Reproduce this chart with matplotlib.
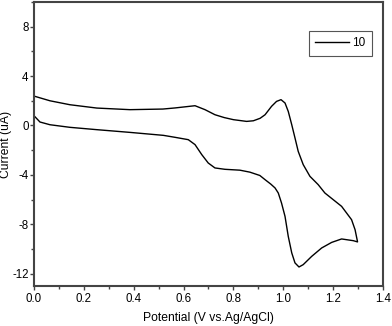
import matplotlib
matplotlib.use('Agg')
import matplotlib.pyplot as plt
from matplotlib.ticker import MultipleLocator

plt.rcParams['font.family'] = ['Liberation Sans', 'DejaVu Sans']
plt.rcParams['axes.unicode_minus'] = False

# forward scan (lower branch), 0 V -> 1.3 V
fwd_v = [0.0, 0.024, 0.064, 0.144, 0.252, 0.385, 0.519, 0.566, 0.619, 0.646,
         0.673, 0.699, 0.726, 0.766, 0.826, 0.866, 0.906, 0.927, 0.950, 0.967,
         0.980, 0.993, 1.007, 1.020, 1.034, 1.047, 1.063, 1.080, 1.114, 1.154,
         1.194, 1.234, 1.281, 1.298]
fwd_i = [0.79, 0.28, 0.06, -0.15, -0.34, -0.56, -0.80, -0.96, -1.15, -1.55,
         -2.36, -3.04, -3.44, -3.55, -3.62, -3.78, -4.05, -4.39, -4.75, -5.06,
         -5.47, -6.28, -7.36, -8.98, -10.32, -11.13, -11.46, -11.27, -10.6, -9.92,
         -9.47, -9.19, -9.33, -9.43]

# reverse scan (upper branch), 1.3 V -> 0 V
rev_v = [1.298, 1.288, 1.274, 1.234, 1.167, 1.140, 1.107, 1.080, 1.060,
         1.047, 1.034, 1.020, 1.007, 0.991, 0.973, 0.953, 0.927, 0.907, 0.880,
         0.853, 0.800, 0.763, 0.726, 0.686, 0.646, 0.566, 0.517, 0.385, 0.252,
         0.144, 0.064, 0.0]
rev_i = [-9.43, -8.44, -7.63, -6.55, -5.47, -4.79, -4.12, -3.17, -2.1,
         -1.01, 0.06, 1.14, 1.82, 2.09, 1.95, 1.55, 0.87, 0.58, 0.38,
         0.33, 0.47, 0.64, 0.87, 1.28, 1.6, 1.42, 1.33, 1.28, 1.41,
         1.68, 2.0, 2.38]

fig = plt.figure(figsize=(3.92, 3.26), dpi=100)
ax = fig.add_axes([0.0867, 0.1227, 0.8903, 0.8712])

ax.plot(fwd_v + rev_v, fwd_i + rev_i, color='black', lw=1.0, label='10')

ax.set_xlim(0, 1.4)
ax.set_ylim(-13, 10)
ax.xaxis.set_major_locator(MultipleLocator(0.2))
ax.xaxis.set_minor_locator(MultipleLocator(0.1))
ax.yaxis.set_major_locator(MultipleLocator(4))
ax.yaxis.set_minor_locator(MultipleLocator(2))
ax.xaxis.set_major_formatter(plt.FuncFormatter(lambda v, p: f'{v:.1f}'))

for s in ax.spines.values():
    s.set_color('#444444')
    s.set_linewidth(1.5)

ax.tick_params(which='both', direction='out', top=False, right=False,
               labelsize=8.3, color='#444444', width=1.0)
ax.tick_params(which='major', length=3)
ax.tick_params(which='minor', length=2.2)
ax.tick_params(axis='y', pad=0.8)
ax.tick_params(axis='x', pad=2)

ax.set_xlabel('Potential (V vs.Ag/AgCl)', fontsize=8.7)
ax.set_ylabel('Current (uA)', fontsize=8.7)
ax.xaxis.set_label_coords(0.5, -0.09)
ax.yaxis.set_label_coords(-0.062, 0.5)

leg = ax.legend(loc='upper right', bbox_to_anchor=(0.968, 0.898), fontsize=8.5,
                fancybox=False, handlelength=2.8, handletextpad=0.3,
                borderpad=0.55, borderaxespad=0, framealpha=1)
leg.get_frame().set_edgecolor('#555555')
leg.get_frame().set_linewidth(0.8)

fig.savefig('out.png', dpi=100)
